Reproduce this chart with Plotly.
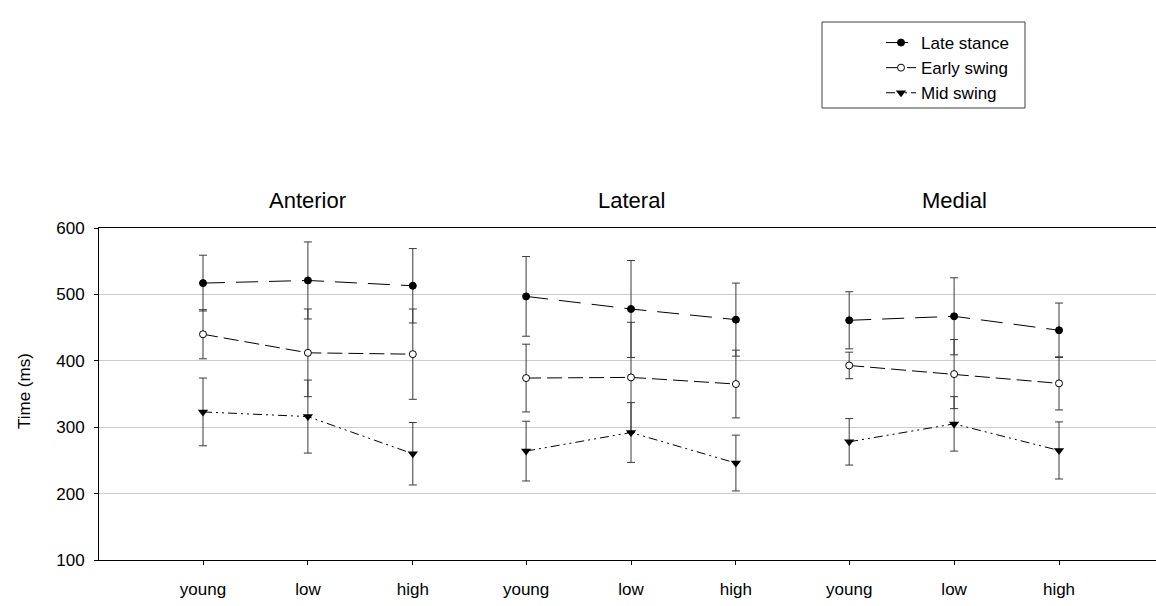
import plotly.graph_objects as go

groups = ["Anterior", "Lateral", "Medial"]
conditions = ["young", "low", "high"]
series_names = ["Late stance", "Early swing", "Mid swing"]

late_stance = [517, 521, 513, 497, 478, 462, 461, 467, 446]
late_stance_err = [42, 58, 56, 60, 73, 55, 43, 58, 41]
early_swing = [440, 412, 410, 374, 375, 365, 393, 380, 366]
early_swing_err = [37, 66, 68, 51, 83, 51, 20, 52, 40]
mid_swing = [323, 316, 260, 264, 292, 246, 278, 305, 265]
mid_swing_err = [51, 55, 47, 45, 45, 42, 35, 41, 43]

GROUP_GAP = 3.08
FONT = "Liberation Sans, Arial, sans-serif"

def positions():
    xs = []
    for g in range(len(groups)):
        for i in range(len(conditions)):
            xs.append(g * GROUP_GAP + i)
    return xs

def with_gaps(values):
    out = []
    n = len(conditions)
    for g in range(len(groups)):
        out.extend(values[g * n:(g + 1) * n])
        if g < len(groups) - 1:
            out.append(None)
    return out

xpos = positions()
xg = with_gaps(xpos)

styles = [
    dict(dash="22px,11px", marker=dict(symbol="circle", size=7, color="black", line=dict(color="black", width=1))),
    dict(dash="15px,6px", marker=dict(symbol="circle", size=7, color="white", line=dict(color="black", width=1))),
    dict(dash="9px,4px,2px,4px,2px,4px", marker=dict(symbol="triangle-down", size=9, color="black", line=dict(color="black", width=0))),
]
data = [(late_stance, late_stance_err), (early_swing, early_swing_err), (mid_swing, mid_swing_err)]

fig = go.Figure()
# error bars first (behind everything)
for (vals, errs) in data:
    fig.add_trace(go.Scatter(
        x=xg, y=with_gaps(vals), mode="markers",
        marker=dict(size=1, color="rgba(0,0,0,0)"),
        error_y=dict(type="data", array=with_gaps(errs), visible=True,
                     color="#3a3a3a", thickness=1, width=4),
        showlegend=False, hoverinfo="skip"))
for name, (vals, errs), st in zip(series_names, data, styles):
    fig.add_trace(go.Scatter(
        x=xg, y=with_gaps(vals), mode="lines+markers", name=name,
        line=dict(color="black", width=1, dash=st["dash"]),
        marker=st["marker"], connectgaps=False))

L, R, T, B = 99, 0, 228, 46
W, H = 1156, 606
pw = W - L - R
ph = H - T - B

def px_x(px):
    return (px - L) / pw

def px_y(py):
    return (H - B - py) / ph

unit = (1059 - 203) / (xpos[-1] - xpos[0])
x_lo = xpos[0] - (203 - L) / unit
x_hi = xpos[-1] + (W - 1059) / unit

annotations = []
for g, name in enumerate(groups):
    annotations.append(dict(x=g * GROUP_GAP + 1, y=px_y(200), xref="x", yref="paper",
                            text=name, showarrow=False, font=dict(family=FONT, size=22, color="black"),
                            xanchor="center", yanchor="middle"))
annotations.append(dict(x=px_x(24), y=px_y(391), xref="paper", yref="paper", text="Time (ms)",
                        textangle=-90, showarrow=False, font=dict(family=FONT, size=17, color="black"),
                        xanchor="center", yanchor="middle"))

fig.update_layout(
    width=W, height=H,
    margin=dict(l=L, r=R, t=T, b=B, pad=0),
    paper_bgcolor="white", plot_bgcolor="white",
    font=dict(family=FONT, size=17, color="black"),
    annotations=annotations,
    shapes=[dict(type="rect", xref="paper", yref="paper",
                 x0=px_x(822), x1=px_x(1025), y0=px_y(108), y1=px_y(22),
                 line=dict(color="#404040", width=1), fillcolor="rgba(0,0,0,0)")],
    legend=dict(x=px_x(881), y=px_y(25), xanchor="left", yanchor="top",
                bgcolor="rgba(0,0,0,0)", borderwidth=0,
                font=dict(family=FONT, size=17, color="black"),
                tracegroupgap=0, itemwidth=30),
    xaxis=dict(range=[x_lo, x_hi], tickmode="array", tickvals=xpos,
               ticktext=conditions * len(groups), showgrid=False, zeroline=False,
               showline=True, linecolor="black", linewidth=1, mirror=True,
               ticks="outside", ticklen=4, tickcolor="black", ticklabelstandoff=10,
               tickfont=dict(family=FONT, size=17, color="black")),
    yaxis=dict(range=[100, 600], tickmode="linear", tick0=100, dtick=100,
               showgrid=True, gridcolor="#cccccc", gridwidth=1, zeroline=False,
               showline=True, linecolor="black", linewidth=1,
               ticks="outside", ticklen=4, tickcolor="black", ticklabelstandoff=6,
               tickfont=dict(family=FONT, size=17, color="black")),
)

fig.write_html("out.html")
